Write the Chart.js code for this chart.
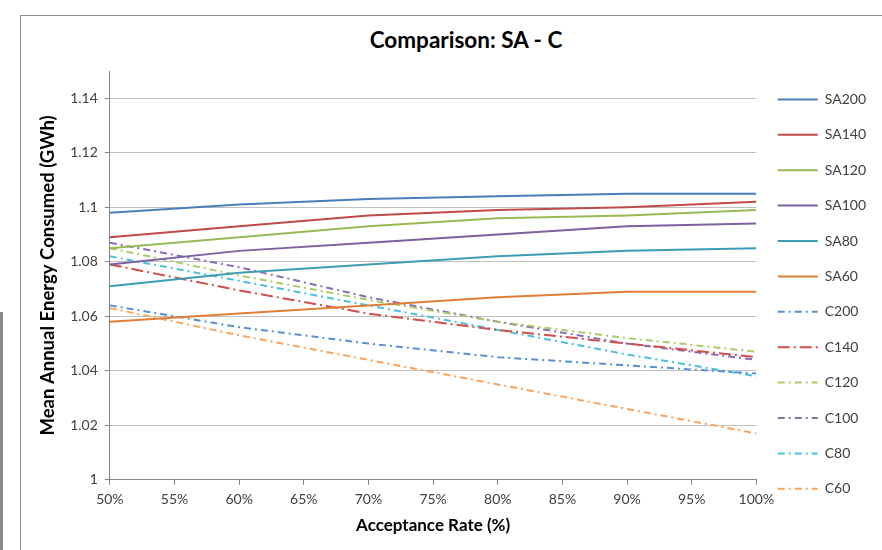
<!DOCTYPE html>
<html>
<head>
<meta charset="utf-8">
<title>Comparison: SA - C</title>
<script src="https://cdn.jsdelivr.net/npm/chart.js@4.4.1/dist/chart.umd.min.js"></script>
<style>
body { margin: 0; background: #fff; }
#wrap { position: relative; width: 882px; height: 550px; overflow: hidden; }
#frame { position: absolute; left: 20px; top: 15px; width: 900px; height: 600px; border: 1px solid #8c8c8c; }
#strip { position: absolute; left: 0; top: 312px; width: 3px; height: 238px; background: #8c8c8c; }
#title { position: absolute; left: 0; width: 932px; top: 26px; text-align: center; font: bold 22.5px Lato, sans-serif; color: #000; }
#chart { position: absolute; left: 0; top: 0; }
</style>
</head>
<body>
<div id="wrap">
    <div id="frame"></div>
    <div id="strip"></div>
    <div id="title">Comparison: SA - C</div>
    <canvas id="chart" width="882" height="550"></canvas>
</div>
<script>
var rates = [50, 60, 70, 80, 90, 100];

var sa200 = [1.098, 1.101, 1.103, 1.104, 1.105, 1.105];
var sa140 = [1.089, 1.093, 1.097, 1.099, 1.100, 1.102];
var sa120 = [1.085, 1.089, 1.093, 1.096, 1.097, 1.099];
var sa100 = [1.079, 1.084, 1.087, 1.090, 1.093, 1.094];
var sa80 = [1.071, 1.076, 1.079, 1.082, 1.084, 1.085];
var sa60 = [1.058, 1.061, 1.064, 1.067, 1.069, 1.069];

var c200 = [1.064, 1.056, 1.050, 1.045, 1.042, 1.039];
var c140 = [1.079, 1.0695, 1.061, 1.055, 1.050, 1.045];
var c120 = [1.085, 1.075, 1.066, 1.058, 1.052, 1.047];
var c100 = [1.087, 1.078, 1.067, 1.058, 1.050, 1.044];
var c80 = [1.082, 1.073, 1.064, 1.055, 1.046, 1.038];
var c60 = [1.063, 1.053, 1.044, 1.035, 1.026, 1.017];

var yTicks = [1, 1.02, 1.04, 1.06, 1.08, 1.1, 1.12, 1.14];

function series(label, values, color, dash) {
    return {
        label: label,
        data: values.map(function (v, i) { return { x: rates[i], y: v }; }),
        borderColor: color,
        backgroundColor: color,
        borderWidth: 2,
        borderDash: dash,
        pointRadius: 0,
        tension: 0,
        fill: false
    };
}

var dashDot = [7, 4, 2, 4];
var longDashDot = [12, 4, 2, 4];

var datasets = [
    series('SA200', sa200, '#4a7ebb', []),
    series('SA140', sa140, '#be4b48', []),
    series('SA120', sa120, '#98b954', []),
    series('SA100', sa100, '#7d60a0', []),
    series('SA80', sa80, '#3f9cb5', []),
    series('SA60', sa60, '#e07e38', []),
    series('C200', c200, '#5b8fd4', dashDot),
    series('C140', c140, '#d24e4a', longDashDot),
    series('C120', c120, '#a8cc66', dashDot),
    series('C100', c100, '#8a6bb8', dashDot),
    series('C80', c80, '#4bbfe0', dashDot),
    series('C60', c60, '#fba25c', dashDot)
];

// legend items take the point style, so put the line dash back on them
function legendLabels(chart) {
    var items = Chart.defaults.plugins.legend.labels.generateLabels(chart);
    items.forEach(function (item) {
        var ds = chart.data.datasets[item.datasetIndex];
        item.lineDash = ds.borderDash;
        item.lineWidth = ds.borderWidth;
        item.strokeStyle = ds.borderColor;
    });
    return items;
}

new Chart(document.getElementById('chart'), {
    type: 'line',
    data: { datasets: datasets },
    options: {
        responsive: false,
        animation: false,
        layout: { padding: { top: 71, left: 33, right: 6, bottom: 11 } },
        plugins: {
            title: { display: false },
            tooltip: { enabled: false },
            legend: {
                position: 'right',
                align: 'start',
                labels: {
                    usePointStyle: true,
                    pointStyle: 'line',
                    pointStyleWidth: 40,
                    padding: 21.4,
                    color: '#404040',
                    font: { family: 'Lato', size: 14 },
                    generateLabels: legendLabels
                }
            }
        },
        scales: {
            x: {
                type: 'linear',
                min: 50,
                max: 100,
                ticks: {
                    stepSize: 5,
                    color: '#404040',
                    padding: 6,
                    font: { family: 'Lato', size: 14 },
                    callback: function (v) { return v + '%'; }
                },
                grid: { drawOnChartArea: false, drawTicks: true, tickLength: 5, color: '#868686' },
                border: { color: '#868686' },
                title: {
                    display: true,
                    text: 'Acceptance Rate (%)',
                    color: '#000',
                    font: { family: 'Lato', size: 17, weight: 'bold' },
                    padding: { top: 2, bottom: 3 }
                }
            },
            y: {
                min: 1,
                max: 1.15,
                afterBuildTicks: function (scale) {
                    scale.ticks = yTicks.map(function (v) { return { value: v }; });
                },
                ticks: {
                    color: '#404040',
                    padding: 7,
                    font: { family: 'Lato', size: 14 },
                    callback: function (v) { return String(Number(v.toFixed(2))); }
                },
                grid: { color: '#c0c0c0', tickColor: '#868686', tickLength: 5 },
                border: { color: '#868686' },
                title: {
                    display: true,
                    text: 'Mean Annual Energy Consumed (GWh)',
                    color: '#000',
                    font: { family: 'Lato', size: 18.5, weight: 'bold' },
                    padding: { top: 4, bottom: 4 }
                }
            }
        }
    }
});
</script>
</body>
</html>
